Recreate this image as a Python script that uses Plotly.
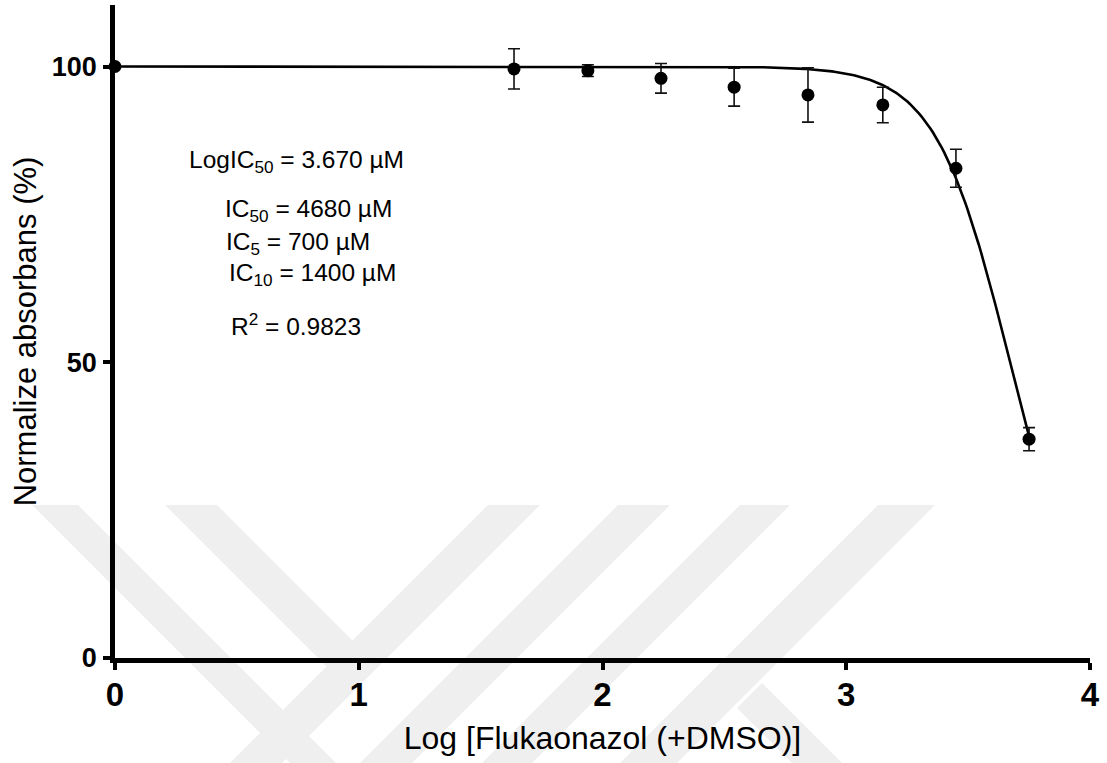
import numpy as np
import plotly.graph_objects as go

# ---------------- data ----------------
log_conc = [0.0, 1.637, 1.94, 2.24, 2.54, 2.843, 3.15, 3.45, 3.75]
absorbance = [100.0, 99.6, 99.3, 98.0, 96.5, 95.2, 93.5, 82.8, 37.0]
sem = [0.0, 3.4, 1.0, 2.5, 3.2, 4.6, 3.0, 3.2, 1.95]

# fitted sigmoid parameters (GraphPad-style 4PL fit)
LOG_IC50 = 3.672
HILL = 2.85
TOP = 100.0
BOTTOM = 0.0

x_ticks = [0, 1, 2, 3, 4]
y_ticks = [0, 50, 100]

fit_lines = [
    ("LogIC<sub>50</sub> = 3.670 µM", 0.295, 84.0),
    ("IC<sub>50</sub> = 4680 µM", 0.443, 75.6),
    ("IC<sub>5</sub> = 700 µM", 0.447, 70.0),
    ("IC<sub>10</sub> = 1400 µM", 0.459, 64.9),
    ("R<sup>2</sup> = 0.9823", 0.468, 56.4),
]

# ---------------- layout geometry ----------------
W, H = 1107, 763
ML, MR, MT, MB = 115, 17, 5, 105
PW, PH = W - ML - MR, H - MT - MB
FONT = "Liberation Sans, Arial, sans-serif"

# background watermark (decorative chevrons), in page pixels
WATERMARK = [
    [(32, 505), (78, 505), (336, 763), (290, 763)],
    [(165, 505), (217, 505), (353, 641), (327, 667)],
    [(488, 505), (540, 505), (282, 763), (230, 763)],
    [(618, 505), (670, 505), (412, 763), (360, 763)],
    [(740, 505), (790, 505), (532, 763), (482, 763)],
    [(878, 505), (935, 505), (677, 763), (620, 763)],
    [(762, 683), (842, 763), (792, 763), (737, 708)],
]


def px_to_paper(px, py):
    return (px - ML) / PW, (H - MB - py) / PH


shapes = []
for poly in WATERMARK:
    pts = [px_to_paper(*p) for p in poly]
    path = "M " + " L ".join(f"{x:.5f},{y:.5f}" for x, y in pts) + " Z"
    shapes.append(dict(type="path", path=path, xref="paper", yref="paper",
                       fillcolor="#efefef", line=dict(width=0), layer="below"))

# fitted curve
x_fit = np.linspace(0, log_conc[-1], 400)
y_fit = BOTTOM + (TOP - BOTTOM) / (1 + 10 ** ((x_fit - LOG_IC50) * HILL))

fig = go.Figure()
fig.add_trace(go.Scatter(x=x_fit, y=y_fit, mode="lines",
                         line=dict(color="black", width=2.6),
                         cliponaxis=False, showlegend=False, hoverinfo="skip"))
fig.add_trace(go.Scatter(
    x=log_conc, y=absorbance, mode="markers",
    marker=dict(color="black", size=13),
    error_y=dict(type="data", array=sem, visible=True, color="#111111",
                 thickness=1.6, width=6),
    cliponaxis=False, showlegend=False))

annotations = []
for text, ax, ay in fit_lines:
    annotations.append(dict(text=text, x=ax, y=ay, xref="x", yref="y",
                            xanchor="left", yanchor="middle", showarrow=False,
                            font=dict(family=FONT, size=24.5, color="black")))

fig.update_layout(
    width=W, height=H,
    margin=dict(l=ML, r=MR, t=MT, b=MB, autoexpand=False),
    paper_bgcolor="white", plot_bgcolor="rgba(0,0,0,0)",
    shapes=shapes, annotations=annotations,
    font=dict(family=FONT, color="black"),
    xaxis=dict(
        range=[0, 4], tickvals=x_ticks, ticktext=[str(t) for t in x_ticks],
        showline=True, linecolor="black", linewidth=4.5,
        ticks="outside", ticklen=7, tickwidth=3.5, tickcolor="black",
        tickfont=dict(family=FONT, size=33, weight="bold", color="black"),
        ticklabelstandoff=-3,
        showgrid=False, zeroline=False,
        title=dict(text="Log [Flukaonazol (+DMSO)]", standoff=16,
                   font=dict(family=FONT, size=32, color="black")),
    ),
    yaxis=dict(
        range=[0, 110.4], tickvals=y_ticks, ticktext=[str(t) for t in y_ticks],
        showline=True, linecolor="black", linewidth=4.5,
        ticks="outside", ticklen=7, tickwidth=3.5, tickcolor="black",
        tickfont=dict(family=FONT, size=27, weight="bold", color="black"),
        ticklabelstandoff=1,
        showgrid=False, zeroline=False,
        title=dict(text="Normalize absorbans (%)", standoff=7,
                   font=dict(family=FONT, size=31, color="black")),
    ),
)

fig.write_html("out.html", config={"displayModeBar": False},
               post_script="document.body.style.margin='0';")
